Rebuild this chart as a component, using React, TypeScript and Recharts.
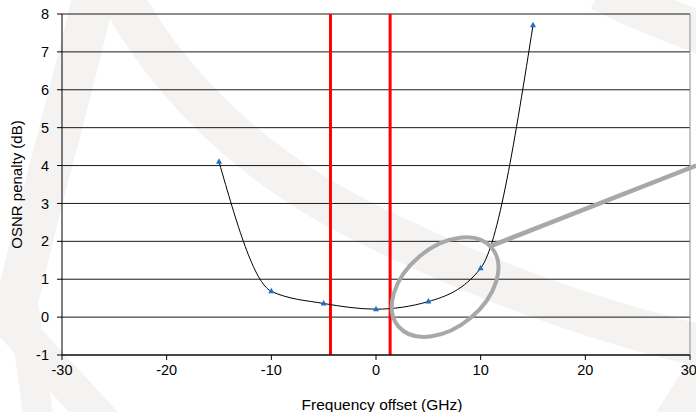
import {
  LineChart,
  Line,
  XAxis,
  YAxis,
  CartesianGrid,
  ReferenceLine,
  ReferenceDot,
} from "recharts";

const freqOffsets = [-15, -10, -5, 0, 5, 10, 15];
const osnrPenalty = [4.1, 0.68, 0.36, 0.21, 0.41, 1.29, 7.7];

const xTicks = [-30, -20, -10, 0, 10, 20, 30];
const yTicks = [-1, 0, 1, 2, 3, 4, 5, 6, 7, 8];

// filter pass-band edges (GHz)
const filterEdges = [-4.35, 1.35];

// highlighted region and its callout
const highlightCenter = { x: 6.6, y: 0.79 };
const calloutStart = { x: 11.0, y: 1.88 };
const calloutEnd = { x: 30.6, y: 4.0 };

const data = freqOffsets.map((f, i) => ({ f, penalty: osnrPenalty[i] }));

const font = "'Liberation Sans', Arial, sans-serif";
const tickStyle = { fill: "#000", fontSize: 14.5, fontFamily: font };

const Triangle = (props: any) => {
  const { cx, cy, index } = props;
  if (cx == null || cy == null) return null;
  return (
    <path
      key={index}
      d={`M${cx},${cy - 3.5} L${cx + 3},${cy + 2} L${cx - 3},${cy + 2} Z`}
      fill="#1f6fc9"
    />
  );
};

const Ellipse = (props: any) => {
  const { cx, cy } = props;
  return (
    <ellipse
      cx={cx}
      cy={cy}
      rx={61}
      ry={40}
      transform={`rotate(-40 ${cx} ${cy})`}
      fill="none"
      stroke="#a8a8a8"
      strokeWidth={4}
    />
  );
};

// faint watermark strokes behind the plot
function Watermark() {
  const band = { fill: "none", stroke: "#f4f3f2", strokeWidth: 42 };
  return (
    <svg
      width={696}
      height={412}
      style={{ position: "absolute", left: 0, top: 0 }}
    >
      <path d="M118,-10 C170,90 260,170 360,220 C460,270 580,320 720,350" {...band} />
      <path d="M95,-10 C70,100 40,200 20,290 L0,330" {...band} />
      <path d="M-10,300 L110,430" {...band} strokeWidth={36} />
      <path d="M20,280 L40,430" {...band} strokeWidth={30} />
      <path d="M600,-10 C640,10 680,25 720,40" {...band} />
      <path d="M670,430 L720,350" {...band} />
    </svg>
  );
}

export default function App() {
  return (
    <div
      style={{
        position: "absolute",
        left: 0,
        top: 0,
        width: 696,
        height: 412,
        background: "#fff",
      }}
    >
      <Watermark />
      <div style={{ position: "absolute", left: 0, top: 0 }}>
        <LineChart
          width={696}
          height={412}
          data={data}
          margin={{ top: 14, right: 6, bottom: 0, left: 0 }}
        >
          <CartesianGrid vertical={false} stroke="#1a1a1a" strokeWidth={1} />
          <XAxis
            dataKey="f"
            type="number"
            domain={[-30, 30]}
            ticks={xTicks}
            height={57}
            tick={tickStyle}
            tickSize={5}
            tickMargin={5}
            axisLine={{ stroke: "#000" }}
            tickLine={{ stroke: "#000" }}
            label={{
              value: "Frequency offset (GHz)",
              position: "insideBottom",
              offset: 2,
              dx: 6,
              style: { fill: "#000", fontSize: 15.5, fontFamily: font },
            }}
          />
          <YAxis
            type="number"
            domain={[-1, 8]}
            ticks={yTicks}
            width={62}
            tick={tickStyle}
            tickSize={5}
            tickMargin={8}
            axisLine={{ stroke: "#000" }}
            tickLine={{ stroke: "#000" }}
            label={{
              value: "OSNR penalty (dB)",
              angle: -90,
              position: "insideLeft",
              offset: 17,
              style: {
                fill: "#000",
                fontSize: 15,
                fontFamily: font,
                textAnchor: "middle",
              },
            }}
          />
          <ReferenceLine x={30} stroke="#8c8c8c" strokeWidth={1} />
          {filterEdges.map((x) => (
            <ReferenceLine key={x} x={x} stroke="#ff0000" strokeWidth={3} />
          ))}
          <Line
            dataKey="penalty"
            type="monotone"
            stroke="#000"
            strokeWidth={1}
            dot={Triangle}
            activeDot={false}
            isAnimationActive={false}
          />
          <ReferenceDot
            x={highlightCenter.x}
            y={highlightCenter.y}
            shape={Ellipse}
            ifOverflow="visible"
          />
          <ReferenceLine
            segment={[calloutStart, calloutEnd]}
            stroke="#a8a8a8"
            strokeWidth={4.5}
            ifOverflow="visible"
          />
        </LineChart>
      </div>
    </div>
  );
}
